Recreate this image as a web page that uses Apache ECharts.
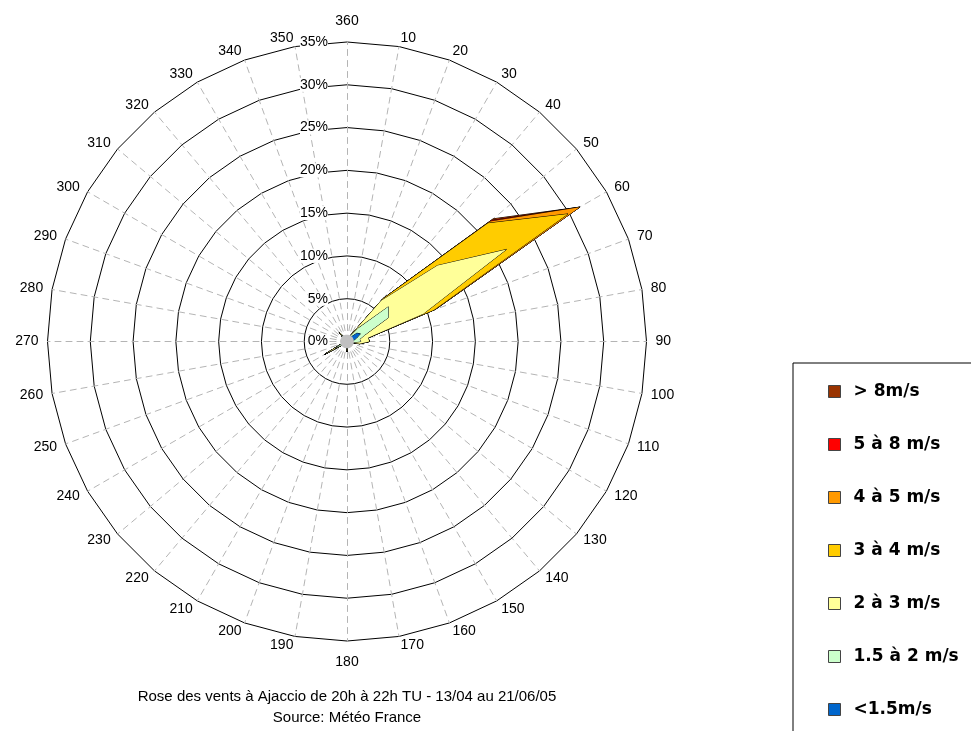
<!DOCTYPE html>
<html>
<head>
<meta charset="utf-8">
<script src="https://cdn.jsdelivr.net/npm/echarts@6/dist/echarts.min.js"></script>
<style>
  html, body { margin: 0; padding: 0; background: #fff; }
  #main { width: 971px; height: 731px; }
</style>
</head>
<body>
<div id="main"></div>
<script>
// directions (degrees), 10 -> 360
const directions = [10, 20, 30, 40, 50, 60, 70, 80, 90, 100, 110, 120, 130, 140, 150, 160, 170, 180,
                    190, 200, 210, 220, 230, 240, 250, 260, 270, 280, 290, 300, 310, 320, 330, 340, 350, 360];

// frequences (%) par classe de vitesse, même ordre que directions
const under15 = [0.2, 0.3, 0.4, 0.6, 1.5, 1.8, 1.2, 0.8, 0.6, 0.3, 0.2, 0.2, 0.2, 0.2, 0.2, 0.3, 0.4, 0.6,
                 0.4, 0.3, 0.3, 0.4, 0.5, 0.8, 0.5, 0.3, 0.3, 0.3, 0.3, 0.3, 0.5, 0.7, 0.5, 0.3, 0.2, 0.2];
const from15to2 = [0, 0, 0.2, 1.4, 4.8, 3.8, 1.0, 0.7, 1.0, 0.4, 0, 0, 0, 0, 0, 0, 0, 0.3,
                   0, 0, 0, 0, 0, 0.8, 0, 0, 0, 0, 0, 0, 0, 0.3, 0, 0, 0, 0];
const from2to3 = [0, 0, 0.2, 4.2, 7.5, 15.9, 7.3, 1.0, 1.0, 0.8, 0, 0, 0, 0, 0, 0, 0, 0.3,
                  0, 0, 0, 0, 0, 1.4, 0, 0, 0, 0, 0, 0, 0, 0.4, 0, 0, 0, 0];
const from3to4 = [0, 0, 0, 0.3, 7.7, 8.3, 1.3, 0, 0, 0, 0, 0, 0, 0, 0, 0, 0, 0,
                  0, 0, 0, 0, 0, 0, 0, 0, 0, 0, 0, 0, 0, 0, 0, 0, 0, 0];
const from4to5 = [0, 0, 0, 0, 0.3, 1.6, 0.2, 0, 0, 0, 0, 0, 0, 0, 0, 0, 0, 0,
                  0, 0, 0, 0, 0, 0, 0, 0, 0, 0, 0, 0, 0, 0, 0, 0, 0, 0];
const from5to8 = [0, 0, 0, 0, 0.2, 0, 0, 0, 0, 0, 0, 0, 0, 0, 0, 0, 0, 0,
                  0, 0, 0, 0, 0, 0, 0, 0, 0, 0, 0, 0, 0, 0, 0, 0, 0, 0];
const over8 = [0, 0, 0, 0, 0.3, 0, 0, 0, 0, 0, 0, 0, 0, 0, 0, 0, 0, 0,
               0, 0, 0, 0, 0, 0, 0, 0, 0, 0, 0, 0, 0, 0, 0, 0, 0, 0];
const calm = 0.8; // vents calmes (disque gris au centre)

const classNames = ['<1.5m/s', '1.5 à 2 m/s', '2 à 3 m/s', '3 à 4 m/s', '4 à 5 m/s', '5 à 8 m/s', '> 8m/s'];
const classData = [under15, from15to2, from2to3, from3to4, from4to5, from5to8, over8];
const classColors = ['#0066CC', '#CCFFCC', '#FFFF99', '#FFCC00', '#FF9900', '#FF0000', '#993300'];

const font = 'Liberation Sans, Arial, sans-serif';

// le radar tourne dans le sens anti-horaire : 360 en haut puis 350, 340...
let order = [];
for (let i = directions.length - 1; i >= 0; i--) order.push(i);

let indicators = order.map((i, k) => {
    let d = directions[i];
    let ind = { name: String(d), min: 0, max: 35, nameGap: (d === 360 || d === 180) ? 14 : 9 };
    if (k === 0) ind.axisLabel = { show: true };
    return ind;
});

// valeurs cumulées (empilement)
let cumul = [];
classData.forEach((arr, c) => {
    cumul.push(arr.map((v, i) => v + (c > 0 ? cumul[c - 1][i] : 0)));
});

let series = [];
for (let c = classData.length - 1; c >= 0; c--) {
    series.push({
        name: classNames[c],
        type: 'radar',
        symbol: 'none',
        silent: true,
        z: 2,
        itemStyle: { color: classColors[c] },
        lineStyle: { color: '#000', width: 1 },
        areaStyle: { color: classColors[c], opacity: 1 },
        data: [{ value: order.map(i => cumul[c][i]), name: classNames[c] }]
    });
}
series.push({
    name: 'calme',
    type: 'radar',
    symbol: 'none',
    silent: true,
    z: 3,
    lineStyle: { width: 0 },
    areaStyle: { color: '#C0C0C0', opacity: 1 },
    data: [{ value: order.map(() => calm) }]
});

let chart = echarts.init(document.getElementById('main'));
chart.setOption({
    animation: false,
    textStyle: { fontFamily: font },
    title: {
        text: 'Rose des vents à Ajaccio de 20h à 22h TU - 13/04 au 21/06/05\nSource: Météo France',
        left: 342,
        top: 681,
        textAlign: 'center',
        textStyle: { fontFamily: font, fontSize: 15, fontWeight: 'normal', color: '#000', lineHeight: 21 }
    },
    legend: {
        orient: 'vertical',
        left: 793,
        top: 363,
        height: 380,
        padding: [20, 40, 30, 35],
        itemGap: 36,
        itemWidth: 12,
        itemHeight: 12,
        icon: 'rect',
        borderColor: '#000',
        borderWidth: 1,
        itemStyle: { borderColor: '#444', borderWidth: 1 },
        selectedMode: false,
        textStyle: { fontFamily: 'DejaVu Sans, sans-serif', fontSize: 17, fontWeight: 'bold', color: '#000', padding: [0, 0, 0, 8] },
        data: classNames.slice().reverse()
    },
    radar: {
        center: [347, 341.5],
        radius: 299.5,
        startAngle: 90,
        shape: 'polygon',
        splitNumber: 7,
        indicator: indicators,
        axisName: { color: '#000', fontSize: 14, fontFamily: font },
        axisLine: { lineStyle: { color: '#b4b4b4', type: [6, 5], width: 1 } },
        splitLine: { lineStyle: { color: '#000', width: 1 } },
        splitArea: { show: false },
        axisTick: { show: false },
        axisLabel: {
            show: false,
            color: '#000',
            fontSize: 14,
            fontFamily: font,
            formatter: '{value}%',
            backgroundColor: '#fff',
            margin: 19
        }
    },
    series: series
});
</script>
</body>
</html>
